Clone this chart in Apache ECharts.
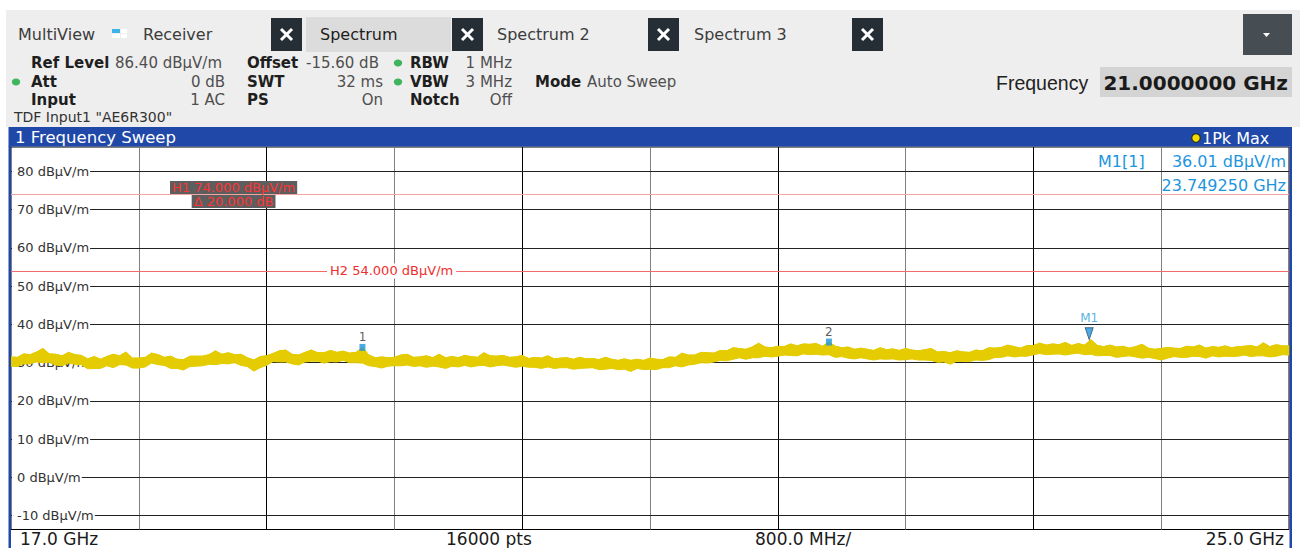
<!DOCTYPE html>
<html>
<head>
<meta charset="utf-8">
<title>1 Frequency Sweep</title>
<script src="https://cdn.jsdelivr.net/npm/echarts@6/dist/echarts.min.js"></script>
<style>
  html, body { margin: 0; padding: 0; background: #ffffff; }
  #chart { width: 1300px; height: 548px; }
</style>
</head>
<body>
<div id="chart"></div>
<script>
// ---- Sweep setup ----
const sweepStartGHz = 17.0;
const sweepStopGHz = 25.0;
const gridDivisions = 10;
const sweepPoints = 16000;
const refLevel = 86.40;
const levelRange = 100;
const levelTicks = [80, 70, 60, 50, 40, 30, 20, 10, 0, -10];

// ---- Trace 1 (Pk Max): min / max envelope per 40 MHz display column ----
const traceMax = [
  31.5, 31.4, 32.3, 32.1, 32.8, 33.7, 32.3, 32.2, 31.8, 32.7,
  32.1, 31.9, 31.0, 31.6, 30.9, 31.6, 32.2, 31.8, 32.8, 31.2,
  31.2, 31.4, 32.5, 32.1, 31.4, 31.7, 30.9, 30.8, 31.7, 31.7,
  31.7, 32.1, 33.1, 32.2, 32.6, 32.1, 32.2, 31.3, 30.7, 31.6,
  31.8, 32.4, 33.1, 33.3, 32.2, 32.0, 32.7, 33.3, 32.6, 32.6,
  33.2, 32.7, 33.0, 32.5, 32.7, 34.0, 32.0, 31.3, 31.5, 31.3,
  31.4, 32.0, 32.2, 31.4, 31.5, 31.8, 31.3, 32.2, 31.3, 31.6,
  31.3, 31.9, 31.6, 31.4, 32.6, 31.8, 31.7, 31.9, 31.4, 31.5,
  31.9, 31.1, 31.4, 31.2, 31.8, 31.0, 31.2, 31.3, 30.9, 31.4,
  31.0, 31.1, 30.8, 31.4, 30.9, 30.6, 31.0, 30.6, 30.9, 30.6,
  31.2, 30.9, 30.8, 31.5, 31.4, 32.5, 32.0, 32.0, 32.7, 32.6,
  32.5, 33.2, 33.1, 33.9, 33.7, 33.5, 34.1, 35.1, 34.1, 33.9,
  34.3, 34.2, 34.9, 34.4, 34.9, 34.8, 35.0, 34.3, 35.4, 34.3,
  33.9, 34.1, 33.5, 33.8, 33.5, 33.2, 33.9, 33.4, 33.6, 33.2,
  33.7, 33.3, 33.1, 33.4, 33.7, 32.8, 32.9, 32.6, 33.1, 32.8,
  32.7, 33.3, 33.1, 33.9, 33.8, 34.0, 34.6, 34.2, 33.8, 34.5,
  34.5, 35.1, 34.6, 34.9, 34.7, 35.3, 34.5, 35.0, 34.6, 36.01,
  34.5, 34.2, 34.6, 34.1, 34.3, 33.8, 34.2, 34.8, 33.8, 33.5,
  33.7, 34.0, 33.8, 33.7, 34.3, 34.1, 34.6, 33.8, 34.2, 34.0,
  34.4, 33.9, 34.2, 34.3, 34.5, 34.1, 35.2, 34.2, 34.7, 34.4, 34.4
];
const traceMin = [
  29.1, 29.0, 29.7, 29.7, 30.2, 30.0, 30.1, 29.4, 29.2, 29.9,
  29.6, 29.5, 28.4, 28.5, 28.5, 29.2, 28.7, 29.5, 29.4, 28.6,
  28.6, 28.9, 29.9, 29.5, 29.3, 28.5, 28.5, 28.1, 29.0, 29.1,
  29.2, 29.6, 29.5, 29.8, 29.7, 30.0, 29.3, 29.0, 27.8, 28.7,
  29.3, 30.3, 30.2, 30.2, 29.7, 29.4, 30.2, 30.4, 30.4, 29.9,
  30.3, 30.2, 30.6, 30.0, 30.0, 29.9, 29.2, 29.0, 28.6, 29.1,
  29.2, 29.2, 29.4, 29.0, 29.2, 28.8, 29.1, 28.9, 28.5, 29.1,
  28.9, 29.3, 28.9, 29.2, 29.3, 28.9, 29.2, 29.4, 29.1, 28.8,
  29.1, 28.8, 28.8, 28.5, 28.9, 28.5, 28.7, 28.7, 28.3, 28.5,
  28.6, 28.7, 28.2, 28.3, 28.5, 28.2, 28.3, 27.7, 28.5, 28.2,
  28.3, 28.2, 28.7, 28.7, 29.2, 28.9, 29.4, 29.6, 30.0, 29.9,
  30.2, 30.6, 30.5, 30.9, 31.3, 30.9, 31.3, 31.3, 31.7, 31.5,
  31.7, 32.0, 31.9, 31.8, 32.3, 32.1, 32.2, 32.0, 32.1, 31.4,
  31.6, 31.2, 31.0, 31.3, 31.0, 30.7, 31.0, 30.9, 31.0, 30.7,
  30.8, 31.0, 30.7, 30.7, 30.6, 30.1, 30.2, 29.6, 30.4, 30.3,
  30.3, 30.7, 30.6, 30.8, 31.4, 31.4, 31.8, 31.5, 31.7, 31.7,
  32.1, 32.4, 32.1, 32.2, 32.3, 32.0, 32.3, 32.5, 32.1, 32.2,
  31.8, 31.9, 31.9, 31.4, 31.6, 31.8, 31.5, 31.2, 31.4, 31.1,
  30.7, 31.2, 31.6, 31.4, 31.4, 31.7, 31.6, 31.2, 31.8, 31.5,
  31.7, 31.6, 31.7, 32.0, 31.6, 31.8, 31.8, 31.5, 31.7, 32.1, 32.0
];

// ---- Markers ----
const markerNames = ['1', '2', 'M1'];
const markerFreqs = [19.20, 22.12, 23.749250];
const markerLevels = [34.0, 35.4, 36.01];

// ---- Limit lines ----
const limitNames = ['H1', 'H2'];
const limitLevels = [74, 54];

// ---- Colours / fonts ----
const TRACE = '#e4cc00';
const BLUE = '#1f48a9';
const MARK = '#1d95dd';
const FONT = '"DejaVu Sans", "Noto Sans", sans-serif';
const UNIT = ' dB\u00b5V/m';

const spanGHz = sweepStopGHz - sweepStartGHz;
const traceFreqs = traceMax.map((_, i) => sweepStartGHz + i * spanGHz / (traceMax.length - 1));

// horizontal level lines with their labels
const levelLines = levelTicks.map(v => ({
  yAxis: v,
  lineStyle: { color: '#222222', width: 1, type: 'solid' },
  label: { show: true, formatter: v + UNIT }
}));
// vertical division lines, alternating grey / black
const divisionLines = [];
for (let k = 1; k < gridDivisions; k++) {
  divisionLines.push({
    xAxis: sweepStartGHz + k * spanGHz / gridDivisions,
    lineStyle: { color: k % 2 ? '#808080' : '#000000', width: 1, type: 'solid' },
    label: { show: false }
  });
}
const limitText = (i) => limitNames[i] + ' ' + limitLevels[i].toFixed(3) + UNIT;
const limitItems = [
  {
    yAxis: limitLevels[0],
    lineStyle: { color: '#f4a3a3', width: 1, type: 'solid' },
    label: {
      show: true,
      distance: [159, 0],
      backgroundColor: 'rgba(0,0,0,0)',
      padding: 0,
      formatter: '{a|' + limitText(0) + '}\n{b|\u0394 ' + (limitLevels[0] - limitLevels[1]).toFixed(3) + ' dB}',
      rich: {
        a: { backgroundColor: '#5e5e5e', color: '#ff3434', fontSize: 13, fontFamily: FONT, lineHeight: 14, padding: [0, 2], align: 'center' },
        b: { backgroundColor: '#5e5e5e', color: '#ff3434', fontSize: 13, fontFamily: FONT, lineHeight: 14, padding: [0, 2], align: 'center' }
      }
    }
  },
  {
    yAxis: limitLevels[1],
    lineStyle: { color: '#f36a6a', width: 1, type: 'solid' },
    label: {
      show: true,
      distance: [316, 0],
      formatter: limitText(1),
      color: '#ee2e2e',
      fontSize: 13,
      padding: [1, 3],
      backgroundColor: '#ffffff'
    }
  }
];

// ---- header graphics ----
function txt(x, y, text, size, color, opt) {
  opt = opt || {};
  const font = (opt.bold ? 'bold ' : '') + size + 'px ' + (opt.family || FONT);
  const align = opt.align || 'left';
  return {
    type: 'text', x: x, y: y, z: 20, silent: true,
    style: { text: text, fill: color, font: font, align: align, verticalAlign: 'middle', textAlign: align, textVerticalAlign: 'middle' }
  };
}
function box(x, y, w, h, color, z) {
  return { type: 'rect', z: z || 10, silent: true, shape: { x: x, y: y, width: w, height: h }, style: { fill: color } };
}
function closeButton(x) {
  return [
    box(x, 18, 31, 33, '#252d35', 11),
    { type: 'line', z: 12, silent: true, shape: { x1: x + 10, y1: 29, x2: x + 21, y2: 40 }, style: { stroke: '#ffffff', lineWidth: 3 } },
    { type: 'line', z: 12, silent: true, shape: { x1: x + 21, y1: 29, x2: x + 10, y2: 40 }, style: { stroke: '#ffffff', lineWidth: 3 } }
  ];
}
function dot(x, y) {
  return { type: 'ellipse', z: 12, silent: true, shape: { cx: x, cy: y, rx: 4.2, ry: 3.4 }, style: { fill: '#3fb45c' } };
}
const LBL = '#1e1e1e', VAL = '#4e4e4e', TAB = '#3c3c3c';
const graphics = [
  box(6, 10, 1294, 117, '#eeeeee', 5),
  txt(18, 34, 'MultiView', 16, TAB),
  box(112, 29, 8, 4, '#3cb4ea', 11), box(121, 29, 6, 4, '#ffffff', 11),
  box(112, 34, 8, 4, '#ffffff', 11), box(121, 34, 6, 4, '#ffffff', 11),
  txt(143, 34, 'Receiver', 16, TAB),
  ...closeButton(271),
  box(306, 17, 145, 35, '#dcdcdc', 10),
  txt(320, 34, 'Spectrum', 16, '#1c1c1c'),
  ...closeButton(452),
  txt(497, 34, 'Spectrum 2', 16, TAB),
  ...closeButton(648),
  txt(694, 34, 'Spectrum 3', 16, TAB),
  ...closeButton(852),
  box(1243, 14, 49, 41, '#474e53', 10),
  { type: 'polygon', z: 12, silent: true, shape: { points: [[1263, 33], [1270, 33], [1266.5, 37]] }, style: { fill: '#ffffff' } },

  txt(31, 63, 'Ref Level', 15, LBL, { bold: true }),
  txt(115, 63, refLevel.toFixed(2) + UNIT, 15, VAL),
  txt(247, 63, 'Offset', 15, LBL, { bold: true }),
  txt(306, 63, '-15.60 dB', 15, VAL),
  dot(398, 63),
  txt(410, 63, 'RBW', 15, LBL, { bold: true }),
  txt(512, 63, '1 MHz', 15, VAL, { align: 'right' }),

  dot(16, 82),
  txt(31, 82, 'Att', 15, LBL, { bold: true }),
  txt(225, 82, '0 dB', 15, VAL, { align: 'right' }),
  txt(247, 82, 'SWT', 15, LBL, { bold: true }),
  txt(383, 82, '32 ms', 15, VAL, { align: 'right' }),
  dot(398, 82),
  txt(410, 82, 'VBW', 15, LBL, { bold: true }),
  txt(512, 82, '3 MHz', 15, VAL, { align: 'right' }),
  txt(535, 82, 'Mode', 15, LBL, { bold: true }),
  txt(587, 82, 'Auto Sweep', 15, VAL),

  txt(31, 100, 'Input', 15, LBL, { bold: true }),
  txt(225, 100, '1 AC', 15, VAL, { align: 'right' }),
  txt(247, 100, 'PS', 15, LBL, { bold: true }),
  txt(383, 100, 'On', 15, VAL, { align: 'right' }),
  txt(410, 100, 'Notch', 15, LBL, { bold: true }),
  txt(512, 100, 'Off', 15, VAL, { align: 'right' }),

  txt(14, 117, 'TDF Input1 "AE6R300"', 14, '#333333'),

  txt(996, 83, 'Frequency', 19.5, '#222222', { family: '"Liberation Sans", Arial, sans-serif' }),
  box(1100, 67, 192, 30, '#d4d4d4', 10),
  txt(1288, 83, ((sweepStartGHz + sweepStopGHz) / 2).toFixed(7) + ' GHz', 20, '#1a1a1a', { align: 'right', bold: true }),

  // diagram title bar and frame
  box(8.5, 127, 1283.5, 19.5, BLUE, 10),
  txt(15, 137.5, '1 Frequency Sweep', 16.5, '#ffffff'),
  { type: 'circle', z: 12, silent: true, shape: { cx: 1196, cy: 138, r: 4.3 }, style: { fill: '#f2dc00', stroke: '#2a2a2a', lineWidth: 1.2 } },
  txt(1202, 138, '1Pk Max', 16, '#ffffff'),
  box(8.5, 146, 2.5, 402, BLUE, 10),
  box(1289.5, 146, 2.5, 402, BLUE, 10),

  // marker readout
  txt(1098, 161.5, 'M1[1]', 16, MARK),
  txt(1286, 161.5, markerLevels[2].toFixed(2) + UNIT, 16, MARK, { align: 'right' }),
  txt(1286, 185, markerFreqs[2].toFixed(6) + ' GHz', 16, MARK, { align: 'right' }),

  // frequency annotation under the diagram
  txt(20, 538.5, sweepStartGHz.toFixed(1) + ' GHz', 17, '#1a1a1a'),
  txt(446, 538.5, sweepPoints + ' pts', 17, '#1a1a1a'),
  txt(755, 538.5, (spanGHz * 1000 / gridDivisions).toFixed(1) + ' MHz/', 17, '#1a1a1a'),
  txt(1284, 538.5, sweepStopGHz.toFixed(1) + ' GHz', 17, '#1a1a1a', { align: 'right' })
];

// the trace band: one polygon running along the max envelope and back along the min envelope
function renderTraceBand(params, api) {
  if (params.dataIndex !== 0) return null;
  const upper = traceFreqs.map((f, i) => api.coord([f, traceMax[i]]));
  const lower = traceFreqs.map((f, i) => api.coord([f, traceMin[i]])).reverse();
  return {
    type: 'polygon',
    shape: { points: upper.concat(lower) },
    style: { fill: TRACE, stroke: TRACE, lineWidth: 1 }
  };
}

const chart = echarts.init(document.getElementById('chart'), null, { renderer: 'svg' });
chart.setOption({
  animation: false,
  backgroundColor: '#ffffff',
  grid: { left: 11, right: 11, top: 147, bottom: 18.5, show: true, borderColor: '#000000', borderWidth: 1, backgroundColor: '#ffffff' },
  xAxis: { type: 'value', min: sweepStartGHz, max: sweepStopGHz, show: false },
  yAxis: { type: 'value', min: refLevel - levelRange, max: refLevel, show: false },
  graphic: { elements: graphics },
  series: [
    {
      name: 'Trace 1 max',
      type: 'line',
      z: 3,
      symbol: 'none',
      silent: true,
      lineStyle: { color: TRACE, width: 1 },
      data: traceFreqs.map((f, i) => [f, traceMax[i]]),
      markLine: {
        silent: true,
        z: 1,
        symbol: ['none', 'none'],
        animation: false,
        label: {
          show: true,
          position: 'insideStart',
          distance: [1, 0],
          color: '#333333',
          fontFamily: FONT,
          fontSize: 13,
          backgroundColor: '#ffffff',
          padding: [1, 1, 1, 5]
        },
        emphasis: { disabled: true },
        data: [...divisionLines, ...levelLines, ...limitItems]
      }
    },
    {
      name: 'Trace 1',
      type: 'custom',
      coordinateSystem: 'cartesian2d',
      z: 3,
      silent: true,
      renderItem: renderTraceBand,
      data: traceFreqs.map((f, i) => [f, traceMin[i], traceMax[i]]),
      encode: { x: 0, y: [1, 2] }
    },
    {
      name: 'Markers',
      type: 'scatter',
      z: 6,
      silent: true,
      data: markerNames.map((n, i) => {
        const main = n === 'M1';
        return {
          name: n,
          value: [markerFreqs[i], markerLevels[i]],
          symbol: main ? 'path://M0,0L10,0L5,13Z' : 'rect',
          symbolSize: main ? [8, 12] : [6, 7],
          symbolOffset: main ? [0, '-50%'] : [0, 0],
          itemStyle: { color: MARK, borderColor: main ? '#2f4660' : MARK, borderWidth: main ? 1 : 0 },
          label: {
            show: true, position: 'top', distance: main ? 3 : 1,
            formatter: '{b}', fontFamily: FONT, fontSize: 12,
            color: main ? '#2a9ee0' : '#333333'
          }
        };
      })
    }
  ]
});
</script>
</body>
</html>
